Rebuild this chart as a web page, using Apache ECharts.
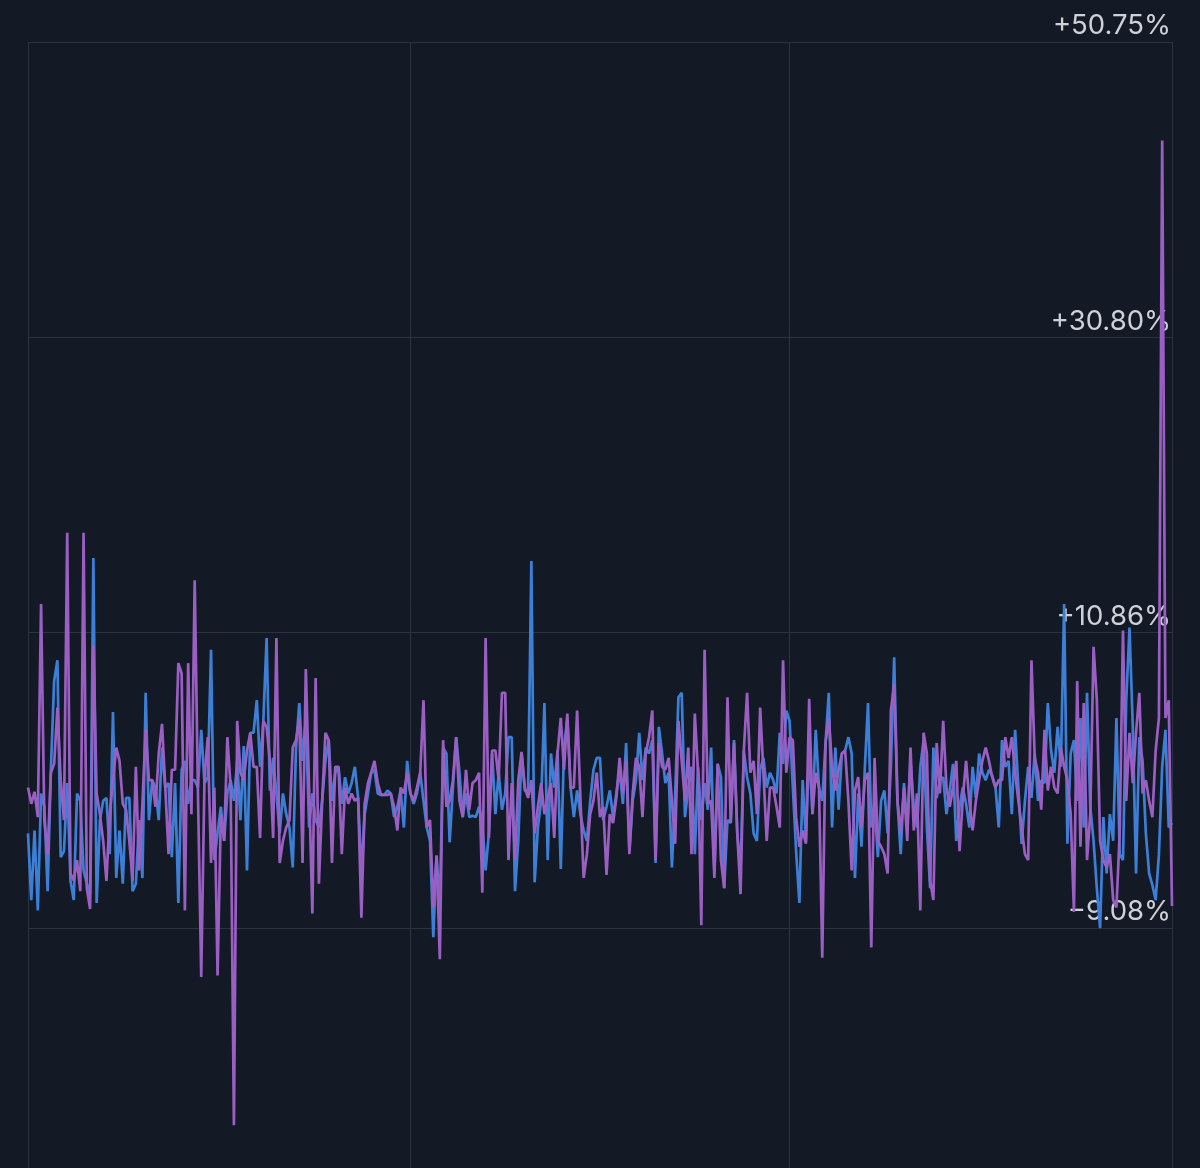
<!DOCTYPE html>
<html>
<head>
<meta charset="utf-8">
<script src="https://cdn.jsdelivr.net/npm/echarts@6/dist/echarts.min.js"></script>
<style>
html,body{margin:0;padding:0;background:#141a25;}
#chart{width:1200px;height:1168px;}
</style>
</head>
<body>
<div id="chart"></div>
<script>
// Daily % change, two series (blue and purple)
const blueValues = [
-2.7,-7.2,-2.5,-7.9,0,-0.9,-6.6,1.6,7.6,9.0,-4.3,-3.9,0.7,-5.9,-7.2,0,-0.5,-5.2,-6.1,-6.8,
15.9,-7.4,-1.8,-0.5,-0.3,-4.1,5.5,-5.7,-2.5,-6.1,-0.3,-0.3,-6.6,-6.1,-1.8,-5.7,6.8,-1.8,0.9,0.4,
-1.8,3.1,0.4,0.7,-4.3,0.7,-7.4,1.6,2.2,-0.7,0.9,0.9,0.4,4.3,0.7,1.1,9.7,-4.5,-2.7,-0.9,
-3.2,0,0.9,-0.5,2.2,-1.8,3.2,-5.2,4.1,4.1,6.3,1.8,4.9,10.5,0.2,2.4,0,-2.7,0,-1.4,
-2.3,-5.0,3.1,6.1,2.2,5.1,-2.3,0,-1.8,-2.3,-0.5,2.2,3.6,-0.5,1.4,1.8,-0.7,1.1,0,0.7,
1.8,-0.3,-5.4,-1.4,0,1.4,1.6,0,-0.1,-0.1,0.2,0,-1.6,-0.9,0.2,-2.3,2.2,0,-0.7,0,
1.4,-0.5,-2.3,-3.2,-9.7,-4.2,-7.7,3.1,2.7,-3.3,0.4,3.8,1.4,-1.6,0,-1.6,-1.5,-1.6,-0.9,-2.0,
-5.2,-2.7,2.7,-1.4,1.4,-1.1,0,3.8,3.8,-6.6,-3.2,2.7,0.2,0,15.7,-6.0,-2.3,-0.5,6.1,-4.5,
2.7,0.4,2.9,-5.1,3.1,5.1,0.4,-1.6,0.2,-1.4,-2.5,-3.2,-0.5,1.6,2.4,2.4,-1.8,-0.9,0.2,-1.6,
0,1.6,-0.7,3.4,-3.9,-0.5,0.9,4.1,0.9,3.1,2.7,3.6,-4.7,4.5,2.7,0.7,1.4,-5.0,0,6.5,
6.8,-1.6,0.4,1.8,-4.1,1.8,-1.8,0.7,-1.1,3.1,-5.4,2.0,1.1,-6.4,-1.8,-2.0,3.6,-2.7,-5.2,2.9,
1.1,0,-2.7,-3.2,1.6,2.4,0.4,1.4,0.9,0,4.1,2.0,5.6,4.9,0.4,-3.9,-7.4,0.9,-3.2,3.1,
-1.4,4.3,0.4,-0.5,3.4,6.8,-2.3,3.1,-1.1,2.7,2.9,3.8,2.7,-5.7,0,-3.6,1.6,6.1,-2.3,-0.5,
-4.3,-0.5,0.2,-2.7,1.8,9.2,-0.5,-4.1,0.7,-2.3,2.2,-0.9,-2.3,1.8,3.6,-2.3,-6.4,3.1,-0.3,0.9,
1.1,-1.4,0.2,2.0,-3.2,-0.9,0.4,-0.7,-2.3,1.8,-0.3,2.7,1.4,0.9,1.6,1.2,0.4,-2.3,3.6,1.8,
2.2,-1.4,4.3,0.4,-3.4,-0.5,1.8,-0.3,2.7,-0.5,0.9,0.7,6.1,2.9,1.4,4.5,1.8,12.8,-3.4,2.7,
3.6,-0.5,5.1,-2.3,6.8,-0.9,-3.2,-6.4,-9.1,-1.6,-5.4,-1.4,-3.2,5.1,-4.1,-4.5,6.3,11.2,4.5,-5.4,
3.8,2.2,-2.7,-5.4,-6.2,-7.2,-4.1,1.8,4.3,-2.3,-2.0
];
const purpleValues = [
0.4,-0.7,0.1,-1.6,12.8,-1.8,-4.1,1.4,2.0,5.8,0.9,-1.8,17.6,-5.4,-5.9,-4.5,-6.6,17.6,-6.4,-7.8,
10.0,0,-1.4,-3.2,-5.9,-1.4,0.9,3.1,2.2,-0.7,-1.1,-3.2,-5.9,1.8,-5.2,-0.7,4.3,0.9,0.9,-0.9,
2.7,4.7,0.4,-4.1,1.6,1.6,8.8,8.1,-7.9,8.8,-1.4,14.4,0,-12.4,1.1,3.8,-4.7,0.4,-12.3,-1.4,
-3.2,3.8,0.4,-22.4,4.9,1.4,0.9,2.9,4.1,1.8,1.8,-3.0,4.9,4.5,2.2,-3.0,10.5,-4.7,-3.2,-2.3,
-1.8,3.1,3.6,5.1,-4.7,8.4,0.4,-8.1,7.8,-6.1,-0.5,4.1,3.6,-4.7,1.8,1.8,-4.1,0.4,-0.7,0,
-0.5,-0.3,-8.4,-0.7,0.7,1.4,2.2,0.7,-0.1,-0.1,-0.1,0,-0.9,-2.5,0.4,0,1.4,0,-0.5,0.4,
1.4,6.3,-2.3,-1.8,-7.7,-4.2,-11.2,3.6,-0.9,-0.5,0.9,3.8,-0.5,-1.6,1.6,-1.1,0.7,0.9,1.4,-6.7,
10.5,-3.0,2.9,2.9,0.9,6.8,6.8,-4.5,0.7,-4.5,0.9,2.8,0.4,-0.3,0.9,-2.7,-0.9,0.7,-1.4,-0.3,
0.7,-3.0,2.7,5.1,1.6,5.4,0.4,0.4,5.6,-0.3,-5.7,-4.1,-1.4,-0.5,1.4,-1.6,-0.9,-5.5,-1.4,-2.0,
-0.3,2.4,0,2.2,-4.1,0,2.4,1.8,-1.6,2.7,3.8,5.6,-4.5,3.4,1.8,1.6,2.4,-0.5,-3.4,4.9,
2.2,-0.5,3.1,-4.1,5.4,1.4,-8.9,9.7,-0.7,-0.5,-5.7,2.0,-4.5,-6.4,6.5,-2.0,3.4,-2.7,-6.8,2.9,
6.8,1.4,2.2,-1.4,5.8,1.4,-3.2,0.4,0.4,-0.9,-2.3,9.0,1.4,3.8,3.6,-1.6,-3.6,-2.5,-3.4,6.4,
-1.4,1.4,0.4,-11.1,3.4,5.1,1.8,0.2,1.6,2.7,2.9,-0.5,-5.2,0.2,1.1,-2.3,0.9,1.4,-10.4,2.4,
-3.2,-3.6,-4.1,-5.4,5.6,7.4,-0.5,-2.7,0.4,-3.2,3.1,-2.5,0,-7.9,4.1,2.7,-5.9,-7.2,3.4,0,
4.9,0.4,-0.9,0.4,2.2,-3.9,-0.3,2.2,-0.5,-2.5,-0.5,0.9,2.2,3.1,2.2,1.1,0.4,0.9,0.9,3.8,
2.4,3.8,1.4,-0.5,-2.3,-4.1,-4.5,9.0,2.4,1.4,-1.1,4.3,0.2,1.8,0.4,0,3.1,1.8,0.9,-1.4,
-8.0,7.6,-3.6,6.1,-4.5,-1.4,9.9,6.3,-3.2,-4.5,-5.0,-4.1,-7.2,-7.7,-2.7,11.0,-0.5,4.1,0.7,4.1,
6.8,0,0.9,-0.5,-1.6,2.9,5.1,44.1,5.1,6.3,-7.6
];
const dayCategories = purpleValues.map((_, i) => i + 1);
const tickLabels = ['+50.75%', '+30.80%', '+10.86%', '\u22129.08%'];
const yMax = 50.75;
const yStep = 19.945;
const yMin = yMax - 4 * yStep;
const splitDays = [0, 117, 233, dayCategories.length - 1];

const chart = echarts.init(document.getElementById('chart'), null, {renderer: 'canvas'});
chart.setOption({
  animation: false,
  backgroundColor: '#141a25',
  grid: {left: 28, width: 1144, top: 42, height: 1181.3, containLabel: false, outerBoundsMode: 'none'},
  xAxis: {
    type: 'category',
    data: dayCategories,
    boundaryGap: false,
    axisLine: {show: false},
    axisTick: {show: false},
    axisLabel: {show: false},
    splitLine: {
      show: true,
      interval: (idx) => splitDays.indexOf(idx) >= 0,
      lineStyle: {color: '#2b3240', width: 1}
    }
  },
  yAxis: {
    type: 'value',
    position: 'right',
    min: yMin,
    max: yMax,
    interval: yStep,
    axisLine: {show: false},
    axisTick: {show: false},
    splitLine: {show: true, lineStyle: {color: '#2b3240', width: 1}},
    axisLabel: {
      inside: true,
      margin: 1,
      verticalAlign: 'bottom',
      padding: [0, 0, 2, 0],
      color: '#cdd1d8',
      fontSize: 27.5,
      fontFamily: 'Inter, "Liberation Sans", sans-serif',
      formatter: (v) => {
        const k = Math.round((yMax - v) / yStep);
        return (k >= 0 && k < tickLabels.length) ? tickLabels[k] : '';
      }
    }
  },
  series: [
    {
      name: 'blue', type: 'line', data: blueValues, showSymbol: false,
      lineStyle: {color: '#3d7fd6', width: 2.7}, itemStyle: {color: '#3d7fd6'}
    },
    {
      name: 'purple', type: 'line', data: purpleValues, showSymbol: false,
      lineStyle: {color: '#9a5fc2', width: 2.7}, itemStyle: {color: '#9a5fc2'}
    }
  ]
});
</script>
</body>
</html>
